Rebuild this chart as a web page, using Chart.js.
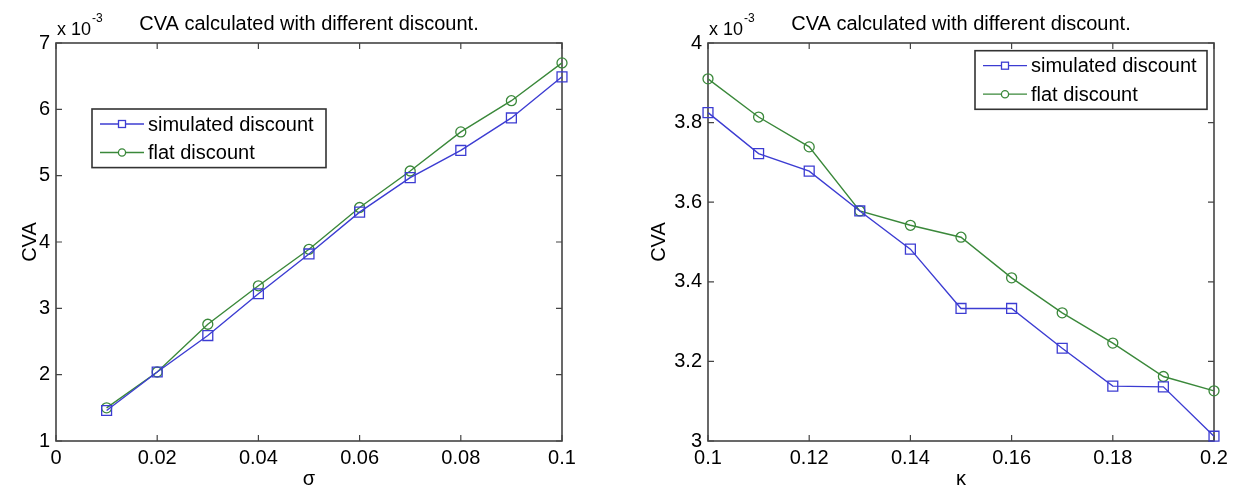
<!DOCTYPE html>
<html>
<head>
<meta charset="utf-8">
<title>CVA calculated with different discount</title>
<script src="https://cdn.jsdelivr.net/npm/chart.js@4.4.1/dist/chart.umd.min.js"></script>
<style>
    html, body { margin: 0; padding: 0; background: #fff; }
    #wrap { position: relative; width: 1238px; height: 489px; }
    canvas { position: absolute; top: 0; }
    #leftChart { left: 0; }
    #rightChart { left: 619px; }
</style>
</head>
<body>
<div id="wrap">
    <canvas id="leftChart" width="619" height="489"></canvas>
    <canvas id="rightChart" width="619" height="489"></canvas>
</div>
<script>
// CVA values are in units of 1e-3 (axis shows "x 10^-3")

// left panel: CVA vs sigma
const sigma = [0.01, 0.02, 0.03, 0.04, 0.05, 0.06, 0.07, 0.08, 0.09, 0.10];
const sigmaSimulated = [1.46, 2.04, 2.59, 3.22, 3.82, 4.45, 4.97, 5.38, 5.87, 6.49];
const sigmaFlat = [1.50, 2.04, 2.76, 3.34, 3.89, 4.52, 5.07, 5.66, 6.13, 6.70];
const sigmaTicks = [0, 0.02, 0.04, 0.06, 0.08, 0.1];
const sigmaCvaTicks = [1, 2, 3, 4, 5, 6, 7];

// right panel: CVA vs kappa
const kappa = [0.10, 0.11, 0.12, 0.13, 0.14, 0.15, 0.16, 0.17, 0.18, 0.19, 0.20];
const kappaSimulated = [3.825, 3.722, 3.678, 3.578, 3.482, 3.333, 3.333, 3.233, 3.138, 3.136, 3.012];
const kappaFlat = [3.910, 3.814, 3.739, 3.578, 3.542, 3.512, 3.410, 3.322, 3.246, 3.162, 3.126];
const kappaTicks = [0.1, 0.12, 0.14, 0.16, 0.18, 0.2];
const kappaCvaTicks = [3, 3.2, 3.4, 3.6, 3.8, 4];

const FONT = '"Liberation Sans", Arial, sans-serif';
const BLUE = 'rgb(60, 60, 210)';
const GREEN = 'rgb(58, 136, 58)';
const AXIS = '#444';
const TEXT = '#000';

// MATLAB-like frame: box, inward ticks on all four sides, title, legend, labels
const matlabAxes = {
    id: 'matlabAxes',
    beforeDatasetsDraw(chart, args, opts) {
        const ctx = chart.ctx;
        const a = chart.chartArea;
        const xs = chart.scales.x, ys = chart.scales.y;
        ctx.save();
        ctx.strokeStyle = AXIS;
        ctx.lineWidth = 1.6;
        ctx.strokeRect(a.left, a.top, a.right - a.left, a.bottom - a.top);
        ctx.lineWidth = 1.2;
        ctx.beginPath();
        xs.ticks.forEach(t => {
            const px = xs.getPixelForValue(t.value);
            ctx.moveTo(px, a.bottom); ctx.lineTo(px, a.bottom - 6);
            ctx.moveTo(px, a.top); ctx.lineTo(px, a.top + 6);
        });
        ys.ticks.forEach(t => {
            const py = ys.getPixelForValue(t.value);
            ctx.moveTo(a.left, py); ctx.lineTo(a.left + 6, py);
            ctx.moveTo(a.right, py); ctx.lineTo(a.right - 6, py);
        });
        ctx.stroke();
        ctx.restore();
    },
    afterDraw(chart, args, opts) {
        const ctx = chart.ctx;
        const a = chart.chartArea;
        const midX = (a.left + a.right) / 2;
        ctx.save();
        ctx.fillStyle = TEXT;

        // title
        ctx.font = '20px ' + FONT;
        ctx.textAlign = 'center';
        ctx.textBaseline = 'alphabetic';
        ctx.fillText(opts.title, midX, 30);

        // exponent "x 10^-3"
        ctx.textAlign = 'left';
        ctx.font = '18px ' + FONT;
        ctx.fillText('x 10', a.left + 1, 35);
        const w = ctx.measureText('x 10').width;
        ctx.font = '12px ' + FONT;
        ctx.fillText('-3', a.left + 2 + w, 22);

        // axis titles
        ctx.font = '20px ' + FONT;
        ctx.textAlign = 'center';
        ctx.fillText(opts.xTitle, midX, 485);
        ctx.save();
        ctx.translate(opts.yTitleX, (a.top + a.bottom) / 2);
        ctx.rotate(-Math.PI / 2);
        ctx.textBaseline = 'middle';
        ctx.fillText('CVA', 0, 0);
        ctx.restore();

        // legend
        const bx = opts.legendX, by = opts.legendY, bw = opts.legendW, bh = 58.6;
        ctx.fillStyle = '#fff';
        ctx.fillRect(bx, by, bw, bh);
        ctx.strokeStyle = '#333';
        ctx.lineWidth = 1.6;
        ctx.strokeRect(bx, by, bw, bh);
        chart.data.datasets.forEach((ds, i) => {
            const ry = by + 15 + i * 28.5;
            ctx.strokeStyle = ds.borderColor;
            ctx.lineWidth = 1.3;
            ctx.beginPath();
            ctx.moveTo(bx + 8, ry); ctx.lineTo(bx + 52, ry);
            ctx.stroke();
            ctx.beginPath();
            if (ds.pointStyle === 'rect') {
                ctx.fillStyle = '#fff';
                ctx.fillRect(bx + 26.5, ry - 3.5, 7, 7);
                ctx.strokeRect(bx + 26.5, ry - 3.5, 7, 7);
            } else {
                ctx.fillStyle = '#fff';
                ctx.arc(bx + 30, ry, 3.6, 0, Math.PI * 2);
                ctx.fill();
                ctx.stroke();
            }
            ctx.fillStyle = TEXT;
            ctx.font = '20px ' + FONT;
            ctx.textAlign = 'left';
            ctx.textBaseline = 'middle';
            ctx.fillText(ds.label, bx + 56, ry + 1);
        });
        ctx.restore();
    }
};

function makeSeries(label, xs, ys, color, style) {
    return {
        label: label,
        data: xs.map((x, i) => ({ x: x, y: ys[i] })),
        borderColor: color,
        borderWidth: 1.4,
        pointStyle: style,
        pointRadius: style === 'rect' ? 7 : 5,
        pointBorderWidth: 1.3,
        pointBorderColor: color,
        pointBackgroundColor: 'rgba(0,0,0,0)',
        fill: false,
        tension: 0,
        clip: false
    };
}

function makeChart(canvasId, cfg) {
    const tickFont = { family: FONT, size: 20 };
    return new Chart(document.getElementById(canvasId), {
        type: 'line',
        data: {
            datasets: [
                makeSeries('simulated discount', cfg.x, cfg.sim, BLUE, 'rect'),
                makeSeries('flat discount', cfg.x, cfg.flat, GREEN, 'circle')
            ]
        },
        options: {
            responsive: false,
            animation: false,
            devicePixelRatio: 1,
            layout: { padding: { top: 43, right: cfg.padRight, left: 0, bottom: 0 } },
            plugins: {
                legend: { display: false },
                title: { display: false },
                tooltip: { enabled: false },
                matlabAxes: cfg.frame
            },
            scales: {
                x: {
                    type: 'linear',
                    min: cfg.xTicks[0],
                    max: cfg.xTicks[cfg.xTicks.length - 1],
                    afterBuildTicks: s => { s.ticks = cfg.xTicks.map(v => ({ value: v })); },
                    afterFit: s => { s.height = 48; },
                    grid: { display: false, drawTicks: false },
                    border: { display: false },
                    ticks: {
                        font: tickFont, color: TEXT, padding: 5,
                        maxRotation: 0, autoSkip: false,
                        callback: v => String(v)
                    }
                },
                y: {
                    type: 'linear',
                    min: cfg.yTicks[0],
                    max: cfg.yTicks[cfg.yTicks.length - 1],
                    afterBuildTicks: s => { s.ticks = cfg.yTicks.map(v => ({ value: v })); },
                    afterFit: s => { s.width = cfg.yWidth; },
                    grid: { display: false, drawTicks: false },
                    border: { display: false },
                    ticks: {
                        font: tickFont, color: TEXT, padding: 6,
                        autoSkip: false,
                        callback: v => String(v)
                    }
                }
            }
        },
        plugins: [matlabAxes]
    });
}

makeChart('leftChart', {
    x: sigma, sim: sigmaSimulated, flat: sigmaFlat,
    xTicks: sigmaTicks, yTicks: sigmaCvaTicks,
    yWidth: 56, padRight: 57,
    frame: {
        title: 'CVA calculated with different discount.',
        xTitle: 'σ', yTitleX: 30,
        legendX: 92, legendY: 109, legendW: 234
    }
});

makeChart('rightChart', {
    x: kappa, sim: kappaSimulated, flat: kappaFlat,
    xTicks: kappaTicks, yTicks: kappaCvaTicks,
    yWidth: 89, padRight: 24,
    frame: {
        title: 'CVA calculated with different discount.',
        xTitle: 'κ', yTitleX: 40,
        legendX: 356, legendY: 50.7, legendW: 232
    }
});
</script>
</body>
</html>
